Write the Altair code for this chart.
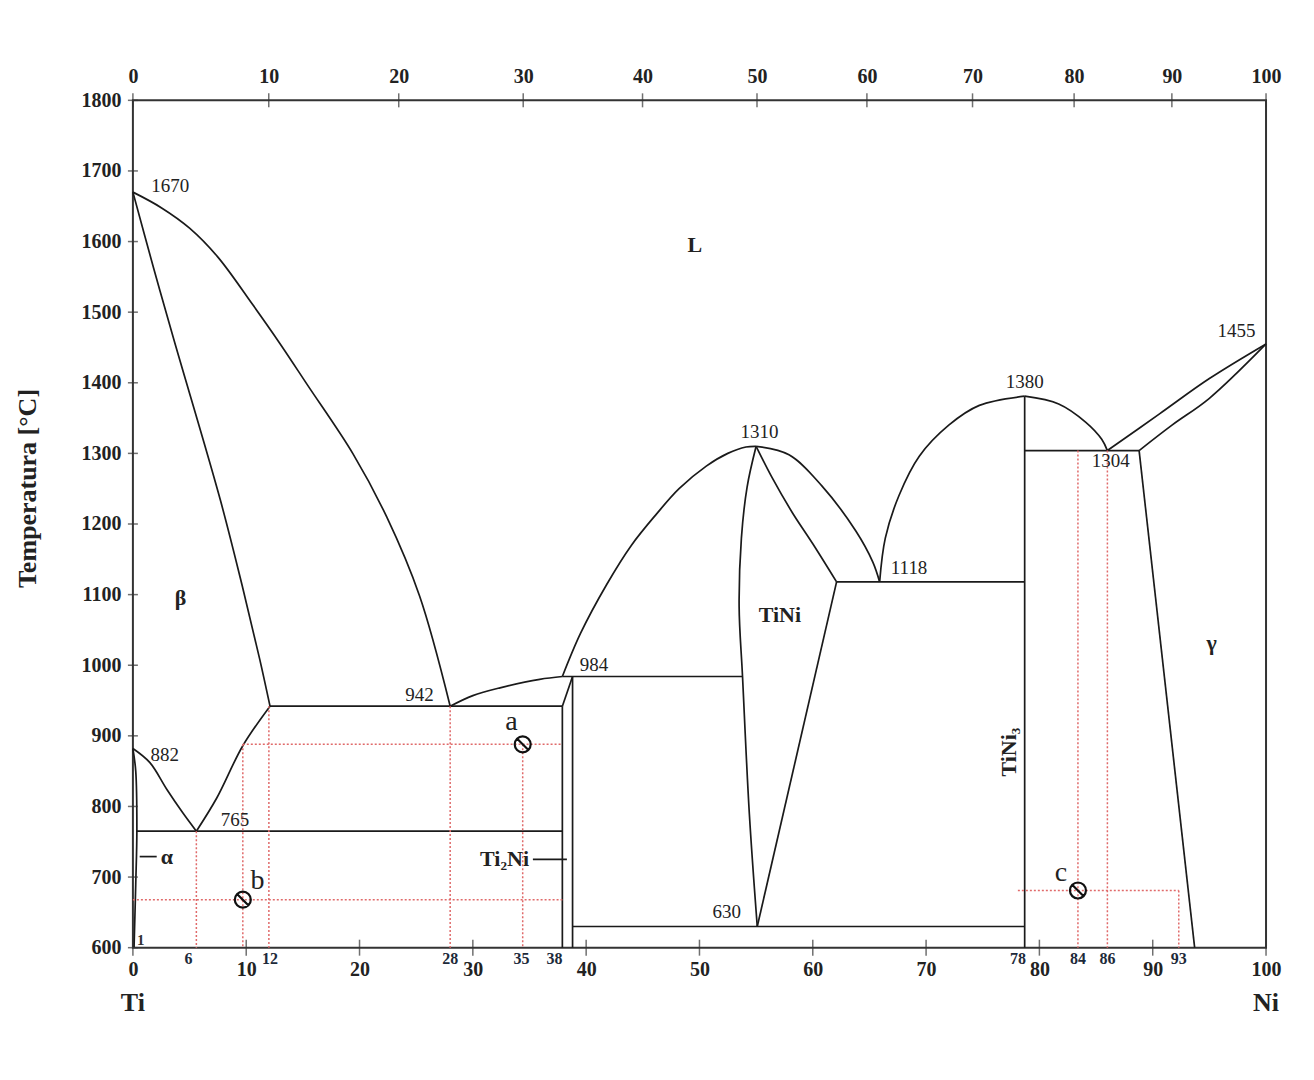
import altair as alt
import pandas as pd

# Ti-Ni phase diagram: x = wt% Ni (bottom axis), t = temperature in degC
# points

liquidus_beta = [(0, 1670), (2.5, 1648), (5, 1619), (7.5, 1578), (10.6, 1510), (13, 1455),
                 (15.4, 1397), (19.4, 1300), (22.4, 1210), (25.3, 1098), (28, 942)]
solidus_beta = [(0, 1670), (1.8, 1564), (3.6, 1462), (7.7, 1235), (9.7, 1109),
                (11.2, 1008), (12.1, 942)]
beta_transus_left = [(0, 882), (1.5, 862), (3.0, 824), (4.4, 791), (5.6, 765)]
beta_transus_right = [(5.6, 765), (7.4, 812), (9.7, 886), (12.1, 942)]
alpha_solvus = [(0, 882), (0.25, 850), (0.35, 765), (0.25, 690), (0.1, 600)]
eutectoid_765 = [(0.35, 765), (37.9, 765)]
eutectic_942 = [(12.1, 942), (37.9, 942)]
liquidus_ti2ni = [(28, 942), (30, 957), (32.4, 968), (35.9, 980), (37.9, 984)]
ti2ni_left = [(37.9, 942), (37.9, 600)]
ti2ni_slant = [(37.9, 942), (38.8, 984)]
ti2ni_right = [(38.8, 984), (38.8, 600)]
peritectic_984 = [(37.9, 984), (53.8, 984)]
liquidus_tini_left = [(37.9, 984), (39.5, 1045), (41.8, 1114), (44, 1170), (46.2, 1214),
                      (48.2, 1250), (50.6, 1282), (52.5, 1300), (54.1, 1309), (55, 1310)]
tini_left = [(55, 1310), (54.2, 1252), (53.7, 1180), (53.5, 1083), (53.8, 984),
             (54.4, 790), (55.1, 630)]
tini_right = [(62.1, 1118), (55.1, 630)]
tini_solidus = [(55, 1310), (56.4, 1266), (58.2, 1216), (60, 1172), (62.1, 1118)]
liquidus_tini_right = [(55, 1310), (57.9, 1298), (60.8, 1254), (63.8, 1190),
                       (65.3, 1146), (65.9, 1118)]
eutectic_1118 = [(62.1, 1118), (78.7, 1118)]
liquidus_tini3_left = [(65.9, 1118), (66.4, 1180), (67.6, 1240), (69.4, 1296),
                       (72.0, 1340), (74.7, 1368), (78.7, 1381)]
liquidus_tini3_right = [(78.7, 1381), (81.7, 1370), (84.1, 1344), (85.5, 1320), (86, 1304)]
tini3 = [(78.7, 1381), (78.7, 600)]
eutectic_1304 = [(78.7, 1304), (88.8, 1304)]
liquidus_ni = [(86, 1304), (90.6, 1356), (95, 1406), (100, 1455)]
solidus_ni = [(88.8, 1304), (91.7, 1340), (95, 1378), (100, 1455)]
gamma_solvus = [(88.8, 1304), (93.7, 600)]
line_630 = [(38.8, 630), (78.7, 630)]
alpha_pointer = [(0.6, 729), (2.1, 729)]
ti2ni_pointer = [(35.3, 725), (38.3, 725)]

black_curves = [liquidus_beta, solidus_beta, beta_transus_left, beta_transus_right,
                alpha_solvus, eutectoid_765, eutectic_942, liquidus_ti2ni, ti2ni_left,
                ti2ni_slant, ti2ni_right, peritectic_984, liquidus_tini_left, tini_left,
                tini_right, tini_solidus, liquidus_tini_right, eutectic_1118,
                liquidus_tini3_left, liquidus_tini3_right, tini3, eutectic_1304,
                liquidus_ni, solidus_ni, gamma_solvus, line_630, alpha_pointer,
                ti2ni_pointer]

# red dotted construction lines (lever rule)
red_lines = [
    [(9.7, 888), (37.9, 888)],
    [(0, 668), (37.9, 668)],
    [(78.1, 681), (92.3, 681)],
    [(5.6, 765), (5.6, 600)],
    [(9.7, 888), (9.7, 600)],
    [(12, 942), (12, 600)],
    [(28, 942), (28, 600)],
    [(34.4, 888), (34.4, 600)],
    [(83.4, 1304), (83.4, 600)],
    [(86, 1304), (86, 600)],
    [(92.3, 681), (92.3, 600)],
]

point_names = ['a', 'b', 'c']
point_x = [34.4, 9.7, 83.4]
point_t = [888, 668, 681]
letter_x = [33.4, 11.0, 81.9]
letter_t = [920, 695, 706]

temp_labels = ['1670', '882', '765', '942', '984', '1310', '630', '1118', '1380', '1304', '1455']
temp_x = [3.3, 2.8, 9.0, 25.3, 40.7, 55.3, 52.4, 68.5, 78.7, 86.3, 97.4]
temp_t = [1678, 873, 781, 958, 1000, 1330, 650, 1138, 1401, 1289, 1473]

phase_labels = ['L', 'β', 'γ', 'TiNi', 'Ti₂Ni', 'α']
phase_x = [49.6, 4.2, 95.2, 57.1, 32.8, 3.0]
phase_t = [1595, 1095, 1032, 1071, 725, 729]

wt_ticks = [0, 10, 20, 30, 40, 50, 60, 70, 80, 90, 100]
special_labels = ['6', '12', '28', '35', '38', '78', '84', '86', '93']
special_x = [4.9, 12.1, 28.0, 34.3, 37.2, 78.1, 83.4, 86.0, 92.3]
at_ticks = [0, 10, 20, 30, 40, 50, 60, 70, 80, 90, 100]
temp_ticks = [600, 700, 800, 900, 1000, 1100, 1200, 1300, 1400, 1500, 1600, 1700, 1800]

M_NI, M_TI = 58.69, 47.87


def at_to_wt(a):
    return 100 * a * M_NI / (a * M_NI + (100 - a) * M_TI)


def to_rows(curve_list):
    rows = []
    for k, curve in enumerate(curve_list):
        for i, (x, t) in enumerate(curve):
            rows.append({'seg': k, 'i': i, 'x': x, 't': t})
    return pd.DataFrame(rows)


lines_df = to_rows(black_curves)
red_df = to_rows(red_lines)

points_df = pd.DataFrame({'x': point_x, 't': point_t})
letters_df = pd.DataFrame({'x': letter_x, 't': letter_t, 'txt': point_names})
temps_df = pd.DataFrame({'x': temp_x, 't': temp_t, 'txt': temp_labels})
phases_df = pd.DataFrame({'x': phase_x, 't': phase_t, 'txt': phase_labels})
special_df = pd.DataFrame({'x': special_x, 't': 600, 'txt': special_labels})
bottom_ticks_df = pd.DataFrame({'x': wt_ticks, 't': 600})
top_ticks_df = pd.DataFrame({'x': [at_to_wt(a) for a in at_ticks], 't': 1800})
left_ticks_df = pd.DataFrame({'x': 0, 't': temp_ticks})
ends_df = pd.DataFrame({'x': [0, 100], 't': 600, 'txt': ['Ti', 'Ni']})

FONT = 'Liberation Serif'
xs = alt.Scale(domain=[0, 100], nice=False, zero=False)
ys = alt.Scale(domain=[600, 1800], nice=False, zero=False)

bottom_axis = alt.Axis(orient='bottom', values=wt_ticks, ticks=False, domain=False, grid=False,
                       title=None, labelFontSize=20, labelFontWeight='bold', labelPadding=12,
                       labelFlush=False, labelColor='#222', labelFont=FONT, format='d')
top_axis = alt.Axis(orient='top', values=[at_to_wt(a) for a in at_ticks], ticks=False,
                    domain=False, grid=False, title=None, labelFontSize=20,
                    labelFontWeight='bold', labelPadding=14, labelFlush=False,
                    labelColor='#222', labelFont=FONT,
                    labelExpr="format(100*(datum.value/58.69)/(datum.value/58.69+(100-datum.value)/47.87), '.0f')")
left_axis = alt.Axis(orient='left', values=temp_ticks, ticks=False, domain=False, grid=False,
                     title='Temperatura [°C]', titleFontSize=26, titleFontWeight='bold',
                     titleFont=FONT, titleColor='#222', titleX=-105, titleY=388,
                     titleAngle=270, titleAlign='center', titleBaseline='middle',
                     labelFontSize=20, labelFontWeight='bold', labelPadding=12,
                     labelFlush=False, labelColor='#222', labelFont=FONT, format='d')

y_enc = alt.Y('t:Q', scale=ys, axis=left_axis)
x_plain = alt.X('x:Q', scale=xs, axis=None)

curves = alt.Chart(lines_df).mark_line(color='#1a1a1a', strokeWidth=1.7,
                                       interpolate='catmull-rom').encode(
    x=alt.X('x:Q', scale=xs, axis=bottom_axis),
    y=y_enc,
    detail='seg:N',
    order='i:Q'
)

top_ticks = alt.Chart(top_ticks_df).mark_tick(orient='vertical', size=14, thickness=1.5,
                                              color='#333').encode(
    x=alt.X('x:Q', scale=xs, axis=top_axis),
    y=y_enc
)

bottom_ticks = alt.Chart(bottom_ticks_df).mark_tick(orient='vertical', size=16, thickness=1.5,
                                                    color='#333').encode(x=x_plain, y=y_enc)

left_ticks = alt.Chart(left_ticks_df).mark_tick(orient='horizontal', size=10, thickness=1.5,
                                                color='#333').encode(x=x_plain, y=y_enc)

red = alt.Chart(red_df).mark_line(color='#e06a6a', strokeWidth=1.5, strokeDash=[2, 2]).encode(
    x=x_plain, y=y_enc, detail='seg:N', order='i:Q')

circles = alt.Chart(points_df).mark_point(
    shape='M-1,0A1,1 0 1,0 1,0A1,1 0 1,0 -1,0M-0.72,-0.72L0.72,0.72',
    size=256, filled=False, color='#111', strokeWidth=2.2, opacity=1
).encode(x=x_plain, y=y_enc)

letters = alt.Chart(letters_df).mark_text(fontSize=28, color='#222', font=FONT).encode(
    x=x_plain, y=y_enc, text='txt:N')

temps = alt.Chart(temps_df).mark_text(fontSize=19, color='#222', font=FONT).encode(
    x=x_plain, y=y_enc, text='txt:N')

phases = alt.Chart(phases_df).mark_text(fontSize=22, fontWeight='bold', color='#222',
                                        font=FONT).encode(x=x_plain, y=y_enc, text='txt:N')

tini3_label = alt.Chart(pd.DataFrame({'x': [77.3], 't': [877], 'txt': ['TiNi₃']})).mark_text(
    fontSize=22, fontWeight='bold', color='#222', font=FONT, angle=270).encode(
    x=x_plain, y=y_enc, text='txt:N')

one_label = alt.Chart(pd.DataFrame({'x': [0.7], 't': [611], 'txt': ['1']})).mark_text(
    fontSize=15, fontWeight='bold', color='#333', font=FONT).encode(
    x=x_plain, y=y_enc, text='txt:N')

specials = alt.Chart(special_df).mark_text(fontSize=16, fontWeight='bold', color='#1d2a3a',
                                           font=FONT, dy=11).encode(
    x=x_plain, y=y_enc, text='txt:N')

ends = alt.Chart(ends_df).mark_text(fontSize=26, fontWeight='bold', color='#222',
                                    font=FONT, dy=55).encode(
    x=x_plain, y=y_enc, text='txt:N')

chart = alt.layer(
    curves, top_ticks, bottom_ticks, left_ticks, red, circles, letters, temps, phases,
    tini3_label, one_label, specials, ends
).resolve_axis(
    x='independent'
).properties(
    width=1134,
    height=848,
    autosize=alt.AutoSizeParams(type='none'),
    padding={'left': 125, 'top': 92, 'right': 40, 'bottom': 100},
    background='white'
).configure(
    font=FONT
).configure_view(
    stroke='#333',
    strokeWidth=2
)

chart.save('out.html', embed_options={'renderer': 'svg', 'actions': False})
